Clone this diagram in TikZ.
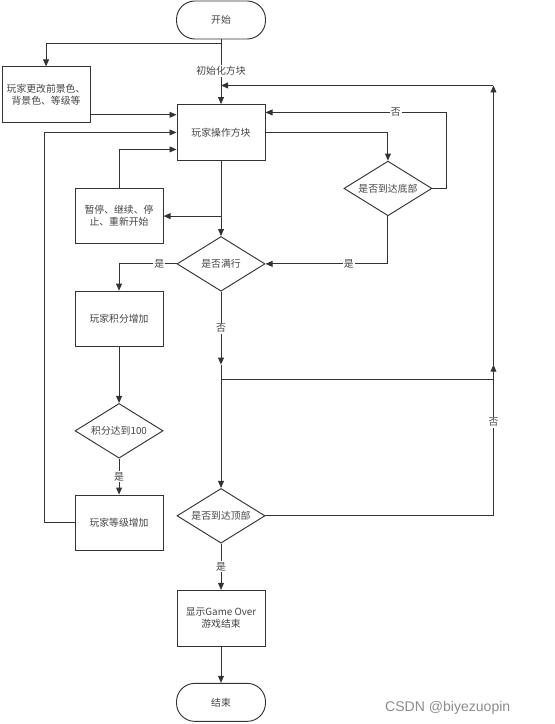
\documentclass[tikz,border=0pt]{standalone}
\usepackage{fontspec}
\usetikzlibrary{positioning,shapes.geometric,arrows.meta}
\newfontfamily\cjkfont{Noto Sans CJK SC}
\newfontfamily\markfont{Liberation Sans}
\definecolor{FlowLine}{HTML}{333333}
\definecolor{FlowText}{HTML}{444444}

\begin{document}
\begin{tikzpicture}[
    every node/.style={font=\cjkfont\fontsize{8.4}{10}\selectfont,text=FlowText},
    termbox/.style={draw=FlowLine,rounded corners=0.55cm,minimum width=2.67cm,minimum height=1.14cm,line width=0.8pt},
    stepbox/.style={draw=FlowLine,minimum width=2.64cm,minimum height=1.67cm,align=center,inner sep=2pt,line width=0.8pt},
    choicebox/.style={draw=FlowLine,diamond,aspect=1.6,inner sep=0pt,minimum width=2.64cm,minimum height=1.64cm,line width=0.8pt},
    arrow/.style={-{Triangle[length=6pt,width=5pt]},line width=0.8pt,color=FlowLine},
    line/.style={line width=0.8pt,color=FlowLine},
    lbl/.style={fill=white,inner sep=1pt}
]
  \useasboundingbox (-6.63,0.6) rectangle (9.99,-21.12);

  % main column
  \node[termbox] (start) at (0,0) {开始};
  \node[stepbox, below=1.94cm of start] (main) {玩家操作方块};
  \node[choicebox, below=2.26cm of main] (full) {是否满行};
  \node[choicebox, below=5.89cm of full] (topd) {是否到达顶部};
  \node[stepbox, below=1.39cm of topd] (over) {显示Game Over\\游戏结束};
  \node[termbox, below=1.09cm of over] (stop) {结束};

  % side nodes
  \node[stepbox, left=2.58cm of main, yshift=1.13cm] (colorbox) {玩家更改前景色、\\背景色、等级等};
  \node[stepbox, left=0.39cm of main, yshift=-2.51cm] (pause) {暂停、继续、停\\止、重新开始};
  \node[stepbox, below=1.39cm of pause] (score) {玩家积分增加};
  \node[choicebox, below=1.67cm of score] (goal) {积分达到100};
  \node[stepbox, below=1.08cm of goal] (level) {玩家等级增加};
  \node[choicebox, right=2.34cm of main, yshift=-1.68cm] (bottomd) {是否到达底部};

  \node[font=\markfont\fontsize{12}{14}\selectfont, text=black!45, right=3.45cm of stop, yshift=-0.18cm] (mark) {CSDN @biyezuopin};

  \coordinate[below=1.38cm of start.south] (mtop);
  \coordinate[below=2.19cm of full.south] (j1);
  \coordinate[below=0.45cm of j1] (j4);
  \coordinate[right=6.84cm of topd.east] (rcorner);
  \coordinate (c1) at ([yshift=-0.6cm]colorbox.east);

  \draw[arrow] (start.south) -- node[pos=0.49,lbl]{初始化方块} (main.north);
  \draw[arrow] ([yshift=-0.12cm]start.south) -| (colorbox.north);
  \draw[arrow] (c1) -- (c1 -| main.west);
  \draw[arrow] (level.west) -- ++(-0.9,0) |- (main.west);
  \draw[arrow] (pause.north) |- ([yshift=-0.51cm]main.west);

  \draw[arrow] (main.south) -- (full.north);
  \draw[arrow] (main.south |- pause.east) -- (pause.east);
  \draw[arrow] (main.east) -| (bottomd.north);
  \draw[arrow] (bottomd.east) -- ++(0.42,0) |- node[pos=0.64,lbl]{否} ([yshift=0.6cm]main.east);
  \draw[arrow] (bottomd.south) |- node[pos=0.66,lbl]{是} (full.east);

  \draw[arrow] (full.west) -| node[pos=0.15,lbl]{是} (score.north);
  \draw[arrow] (score.south) -- (goal.north);
  \draw[arrow] (goal.south) -- node[lbl]{是} (level.north);

  \draw[arrow] (full.south) -- node[lbl]{否} (j1);
  \draw[arrow] (j1) -- (topd.north);
  \draw[line] (j4) -- (j4 -| rcorner);
  \draw[arrow] (topd.east) -- (rcorner) -- node[pos=0.62,lbl]{否} (rcorner |- j1);
  \draw[arrow] (rcorner |- j1) -- (rcorner |- mtop);
  \draw[arrow] (rcorner |- mtop) -- (mtop);

  \draw[arrow] (topd.south) -- node[lbl]{是} (over.north);
  \draw[arrow] (over.south) -- (stop.north);
\end{tikzpicture}
\end{document}
